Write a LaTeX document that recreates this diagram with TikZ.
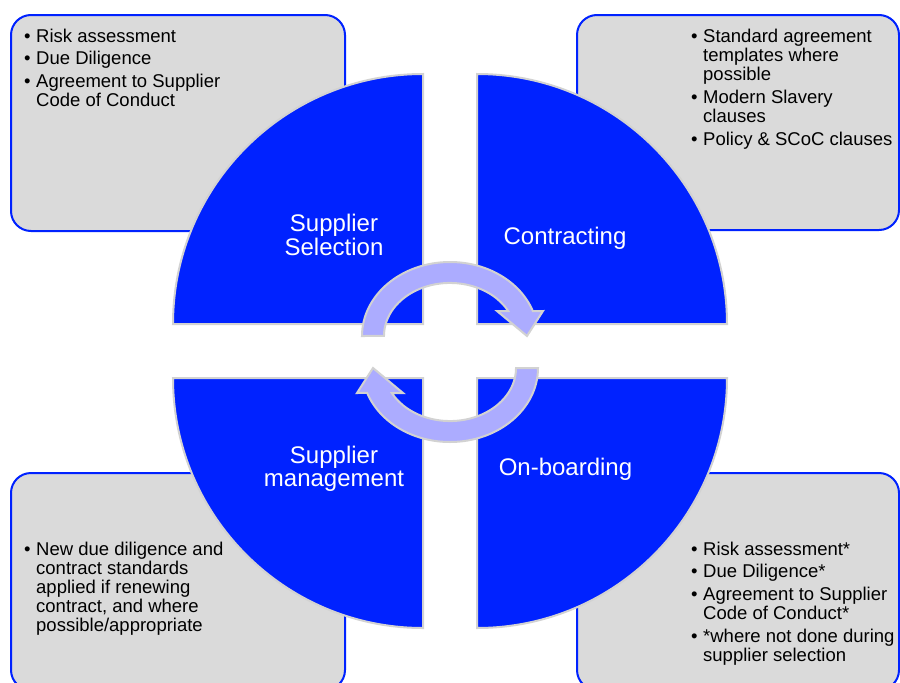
\documentclass[tikz,border=0pt]{standalone}
\usepackage{fontspec}
\setmainfont{Liberation Sans}
\definecolor{qblue}{RGB}{0,34,255}
\definecolor{boxgray}{RGB}{218,218,218}
\definecolor{edgegray}{RGB}{210,210,210}
\definecolor{arrowfill}{RGB}{172,172,255}
\newcommand\bul{\makebox[12pt][l]{•}}
\begin{document}
\begin{tikzpicture}[x=1pt,y=1pt,
  infobox/.style={draw=qblue, line width=2pt, fill=boxgray, rounded corners=20pt},
  quad/.style={fill=qblue, draw=edgegray, line width=2pt},
  cyclearrow/.style={fill=arrowfill, draw=edgegray, line width=2pt, line join=miter},
  qlabel/.style={text=white, font=\fontsize{24}{23.5}\selectfont, inner sep=0pt, anchor=base},
  btext/.style={font=\fontsize{18.5}{19}\selectfont, inner sep=0pt, anchor=base west, text=black},
  halfcycle/.pic={
    \draw[cyclearrow] (362,-336)
      arc[start angle=180, end angle=19.7, x radius=88, y radius=74]
      -- (543,-311) -- (527,-336) -- (497,-311) -- (508.2,-311)
      arc[start angle=28.1, end angle=180, x radius=66, y radius=53]
      -- cycle;
  }
]
\useasboundingbox (0,0) rectangle (900,-683);
\clip (0,0) rectangle (900,-683);

% information boxes
\draw[infobox] (11,-15) rectangle (345,-231);
\draw[infobox] (577,-15) rectangle (899,-230);
\draw[infobox] (11,-473) rectangle (345,-690);
\draw[infobox] (577,-473) rectangle (899,-690);

% quadrants
\draw[quad] (423,-324) -- (173,-324) arc[start angle=180, end angle=90, radius=250] -- cycle;
\draw[quad] (477,-324) -- (477,-74) arc[start angle=90, end angle=0, radius=250] -- cycle;
\draw[quad] (423,-378) -- (173,-378) arc[start angle=180, end angle=270, radius=250] -- cycle;
\draw[quad] (477,-378) -- (727,-378) arc[start angle=0, end angle=-90, radius=250] -- cycle;

% cycle arrows
\pic at (0,0) {halfcycle};
\pic[rotate=180] at (900,-704) {halfcycle};

% quadrant labels
\node[qlabel] (selection) at (334,-231.7)
  {\begin{tabular}[t]{@{}c@{}}Supplier\\[-0.3pt]Selection\end{tabular}};
\node[qlabel] (contracting) at (565,-244) {Contracting};
\node[qlabel] (management) at (334,-463.3)
  {\begin{tabular}[t]{@{}c@{}}Supplier\\[-0.3pt]management\end{tabular}};
\node[qlabel] (onboarding) at (565.5,-475) {On-boarding};

% box texts
\node[btext] (seltext) at (24,-42) {\begin{tabular}[t]{@{}l@{}l@{}}
  \bul & Risk assessment\\[3.8pt]
  \bul & Due Diligence\\[3.8pt]
  \bul & Agreement to Supplier\\
       & Code of Conduct
\end{tabular}};

\node[btext] (contracttext) at (691,-42) {\begin{tabular}[t]{@{}l@{}l@{}}
  \bul & Standard agreement\\
       & templates where\\
       & possible\\[3.8pt]
  \bul & Modern Slavery\\
       & clauses\\[3.8pt]
  \bul & Policy \& SCoC clauses
\end{tabular}};

\node[btext] (mgmttext) at (24,-555) {\begin{tabular}[t]{@{}l@{}l@{}}
  \bul & New due diligence and\\
       & contract standards\\
       & applied if renewing\\
       & contract, and where\\
       & possible/appropriate
\end{tabular}};

\node[btext] (onboardtext) at (691,-555) {\begin{tabular}[t]{@{}l@{}l@{}}
  \bul & Risk assessment*\\[3.8pt]
  \bul & Due Diligence*\\[3.8pt]
  \bul & Agreement to Supplier\\
       & Code of Conduct*\\[3.8pt]
  \bul & *where not done during\\
       & supplier selection
\end{tabular}};
\end{tikzpicture}
\end{document}
